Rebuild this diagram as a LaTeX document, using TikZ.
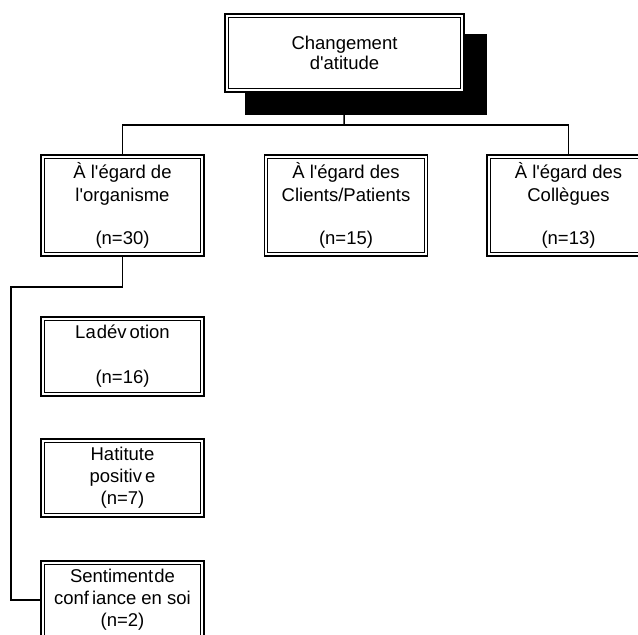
\documentclass[tikz,border=0pt]{standalone}
\usepackage{fontspec}
\setmainfont{Liberation Sans}
\usetikzlibrary{backgrounds}
\newcommand{\ap}{\textquotesingle}
\begin{document}
\begin{tikzpicture}[x=1pt,y=-1pt,
  box/.style={draw, line width=1.8pt, fill=white, minimum width=163pt,
    inner sep=0pt, align=center, font=\fontsize{18.5}{23}\selectfont},
  link/.style={line width=1.5pt}]
\useasboundingbox (0,0) rectangle (638,635);
\clip (0,0) rectangle (638,635);

% main heading with its drop shadow
\node[box, minimum width=239pt, minimum height=78pt] (top) at (344.5,53)
  {Changement\\[-3pt]d\ap atitude};

% three target groups
\node[box, minimum height=101pt] (b1) at (122.5,205.5)
  {À l\ap égard de\\l\ap organisme\\[20pt](n=30)};
\node[box, minimum height=101pt] (b2) at (346,205.5)
  {À l\ap égard des\\Clients/Patients\\[20pt](n=15)};
\node[box, minimum height=101pt] (b3) at (568.5,205.5)
  {À l\ap égard des\\Collègues\\[20pt](n=13)};

% sub-categories of the first group
\node[box, minimum height=79pt] (s1) at (122.5,356.5)
  {La\hspace{1pt}dév\hspace{3pt}otion\\[22pt](n=16)};
\node[box, minimum height=78pt] (s2) at (122.5,478)
  {Hatitute\\[-1pt]positiv\hspace{3pt}e\\[-1pt](n=7)};
\node[box, minimum height=78pt] (s3) at (122.5,600)
  {Sentiment\hspace{1pt}de\\[-1pt]conf\hspace{3pt}iance en soi\\[-1pt](n=2)};

% inner rule of the double frames
\foreach \n in {top,b1,b2,b3,s1,s2,s3}
  \draw[line width=1pt] ([shift={(4pt,-4pt)}]\n.north west)
    rectangle ([shift={(-4pt,4pt)}]\n.south east);

\coordinate (bus) at (344,125);
\coordinate (bend) at (11,287);

\begin{scope}[on background layer]
  \draw[link] (top.south) -- (bus);
  \fill ([shift={(21pt,-21pt)}]top.north west)
    rectangle ([shift={(22pt,-22pt)}]top.south east);
\end{scope}

\draw[link] (b1.north) |- (bus) -| (b3.north);
\draw[link] (b1.south) |- (bend) |- (s3.west);
\end{tikzpicture}
\end{document}
